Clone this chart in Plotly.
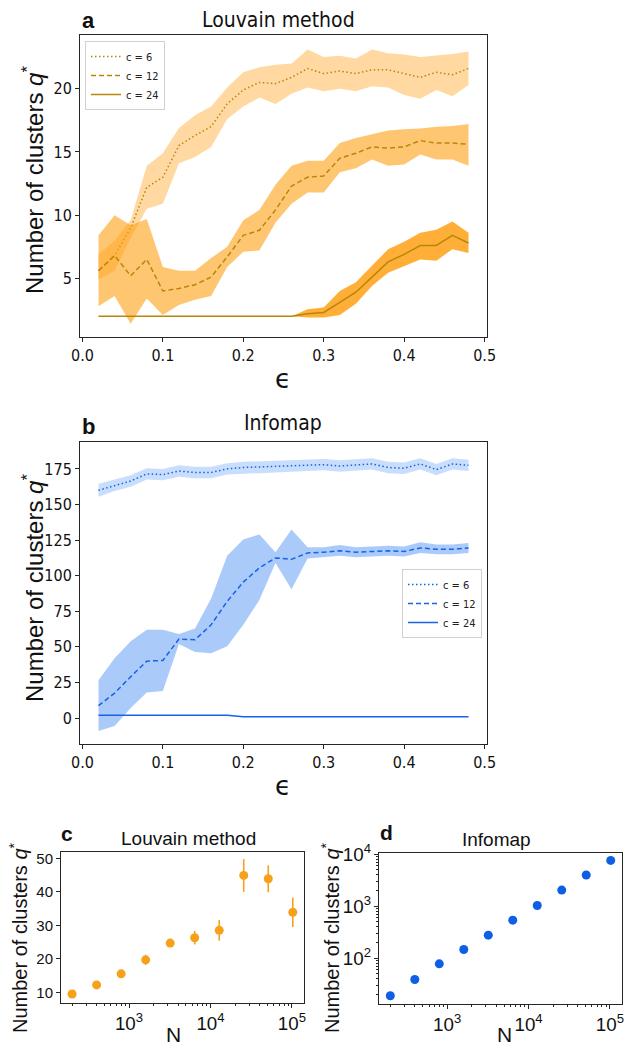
import plotly.graph_objects as go

W, H = 624, 1046

# ---------------- data ----------------
eps = [0.02, 0.04, 0.06, 0.08, 0.10, 0.12, 0.14, 0.16, 0.18, 0.20, 0.22, 0.24,
       0.26, 0.28, 0.30, 0.32, 0.34, 0.36, 0.38, 0.40, 0.42, 0.44, 0.46, 0.48]

# Panel a: Louvain method
lou_c6_mean = [5.6, 6.8, 9.0, 12.2, 13.0, 15.5, 16.3, 17.0, 18.8, 19.9, 20.5, 20.4,
               20.9, 21.6, 21.2, 21.4, 21.2, 21.5, 21.5, 21.2, 20.9, 21.3, 21.1, 21.6]
lou_c6_hi = [6.9, 8.0, 9.6, 13.9, 14.9, 16.9, 17.9, 18.6, 20.1, 21.3, 21.7, 21.9,
             22.0, 23.1, 22.5, 22.6, 22.4, 23.1, 22.8, 22.7, 22.5, 22.6, 22.75, 22.95]
lou_c6_lo = [4.9, 5.6, 8.2, 10.5, 10.9, 14.1, 14.6, 15.4, 17.6, 18.6, 19.3, 18.8,
             19.6, 20.1, 19.8, 20.0, 19.8, 20.2, 20.1, 19.5, 19.2, 19.9, 19.4, 20.3]

lou_c12_mean = [5.6, 6.8, 5.2, 6.5, 4.0, 4.2, 4.5, 5.1, 6.7, 8.4, 8.8, 10.4,
                12.3, 13.0, 13.1, 14.5, 14.9, 15.4, 15.3, 15.4, 15.9, 15.7, 15.7, 15.6]
lou_c12_hi = [8.4, 10.0, 9.2, 9.7, 5.9, 5.6, 5.6, 6.6, 7.5, 9.6, 10.4, 12.4,
              13.9, 14.3, 14.3, 15.7, 16.1, 16.4, 16.7, 16.8, 16.85, 17.0, 17.05, 17.2]
lou_c12_lo = [2.8, 3.6, 1.4, 3.4, 2.1, 2.9, 3.3, 3.6, 5.9, 7.1, 7.2, 9.4,
              10.9, 11.8, 11.8, 13.4, 13.7, 14.4, 13.9, 14.0, 14.8, 14.4, 14.4, 13.9]

lou_c24_mean = [2.0, 2.0, 2.0, 2.0, 2.0, 2.0, 2.0, 2.0, 2.0, 2.0, 2.0, 2.0,
                2.0, 2.2, 2.3, 3.1, 3.9, 5.1, 6.3, 6.9, 7.6, 7.6, 8.4, 7.8]
lou_c24_hi = [2.0, 2.0, 2.0, 2.0, 2.0, 2.0, 2.0, 2.0, 2.0, 2.0, 2.0, 2.0,
              2.0, 2.55, 2.7, 4.0, 4.7, 6.0, 7.3, 7.9, 8.6, 8.85, 9.5, 8.6]
lou_c24_lo = [2.0, 2.0, 2.0, 2.0, 2.0, 2.0, 2.0, 2.0, 2.0, 2.0, 2.0, 2.0,
              2.0, 1.9, 1.9, 2.1, 3.0, 4.4, 5.45, 5.95, 6.5, 6.4, 7.3, 7.0]

# Panel b: Infomap
inf_c6_mean = [160, 163.5, 166.5, 171.5, 171, 173.5, 172.5, 172.5, 175, 176, 176.5, 176.5,
               177, 177.5, 178, 177, 178, 178.5, 176, 175.5, 178.5, 174.5, 178.5, 177.5]
inf_c6_hi = [164.5, 167.5, 170.5, 175.5, 175, 177.5, 176.5, 176.5, 179, 180, 180.5, 180.5,
             181, 181.5, 182, 181, 182, 182.5, 180, 179.5, 182.5, 178.5, 182.5, 181.5]
inf_c6_lo = [155.5, 159.5, 162.5, 167.5, 167, 169.5, 168.5, 168.5, 171, 172, 172.5, 172.5,
             173, 173.5, 174, 173, 174, 174.5, 172, 171.5, 174.5, 170.5, 174.5, 173.5]

inf_c12_mean = [8.7, 17.5, 29, 40, 40.5, 55.5, 55, 65.5, 82, 95.5, 105.5, 112.5,
                111.5, 116, 116.5, 117.5, 116.5, 117, 117.5, 117, 119.5, 118.5, 118.5, 119.5]
inf_c12_hi = [26.5, 42, 54, 62, 62, 59, 63, 84, 114, 125.5, 129, 116.5,
              132.5, 120, 120, 121.5, 120, 120.5, 121, 120.5, 123.5, 122, 122, 123]
inf_c12_lo = [-9, -5.5, 7, 18, 19, 52, 46.5, 45.5, 50.5, 65.5, 83, 109,
              90.5, 112, 113, 114, 113, 113.5, 114, 113.5, 116, 115, 115, 116]

inf_c24_mean = [2, 2, 2, 2, 2, 2, 2, 2, 2, 1, 1, 1,
                1, 1, 1, 1, 1, 1, 1, 1, 1, 1, 1, 1]

# Panels c, d: scaling with N
N_vals = [200, 400, 800, 1600, 3200, 6400, 12800, 25600, 51200, 102400]
lou_q = [9.5, 12.2, 15.5, 19.7, 24.7, 26.3, 28.5, 44.9, 43.9, 33.9]
lou_q_err = [0.5, 0.6, 0.7, 1.5, 1.2, 2.0, 3.1, 4.9, 4.0, 4.4]
inf_q = [19, 39, 78, 147, 277, 538, 1030, 2030, 3950, 7550]

series_labels = ["c = 6", "c = 12", "c = 24"]
eps_ticks = [0.0, 0.1, 0.2, 0.3, 0.4, 0.5]

# ---------------- styling ----------------
LOU_LINE = "#B8860B"
LOU_BANDS = ["rgba(255,160,20,0.40)", "rgba(255,160,20,0.60)", "rgba(255,160,20,0.85)"]
INF_LINE = "#1862E6"
INF_BANDS = ["rgba(100,160,245,0.35)", "rgba(100,160,245,0.55)", "rgba(100,160,245,0.75)"]
DASHES = ["1.5px,2.5px", "5px,3px", "solid"]
ORANGE_MK = "#F7A01A"
BLUE_MK = "#0F5FE6"

NARROW = "Liberation Sans Narrow, DejaVu Sans Condensed, Arial Narrow, Liberation Sans, sans-serif"
SANS = "Liberation Sans, Arial, DejaVu Sans, sans-serif"
AXC = "#262626"


def xd(px0, px1):
    return [px0 / W, px1 / W]


def yd(top, bottom):
    return [1 - bottom / H, 1 - top / H]


fig = go.Figure()


def band(x, lo, hi, color, xa, ya):
    fig.add_trace(go.Scatter(
        x=list(x) + list(x)[::-1], y=list(hi) + list(lo)[::-1],
        fill="toself", fillcolor=color, line=dict(width=0),
        mode="lines", hoverinfo="skip", showlegend=False, xaxis=xa, yaxis=ya))


# Panel a
lou_sets = [(lou_c6_mean, lou_c6_lo, lou_c6_hi),
            (lou_c12_mean, lou_c12_lo, lou_c12_hi),
            (lou_c24_mean, lou_c24_lo, lou_c24_hi)]
for i, (m, lo, hi) in enumerate(lou_sets):
    band(eps, lo, hi, LOU_BANDS[i], "x", "y")
    fig.add_trace(go.Scatter(x=eps, y=m, mode="lines", name=series_labels[i],
                             line=dict(color=LOU_LINE, width=1.5, dash=DASHES[i]),
                             xaxis="x", yaxis="y", legend="legend"))

# Panel b
inf_sets = [(inf_c6_mean, inf_c6_lo, inf_c6_hi),
            (inf_c12_mean, inf_c12_lo, inf_c12_hi),
            (inf_c24_mean, inf_c24_mean, inf_c24_mean)]
for i, (m, lo, hi) in enumerate(inf_sets):
    band(eps, lo, hi, INF_BANDS[i], "x2", "y2")
    fig.add_trace(go.Scatter(x=eps, y=m, mode="lines", name=series_labels[i],
                             line=dict(color=INF_LINE, width=1.5, dash=DASHES[i]),
                             xaxis="x2", yaxis="y2", legend="legend2"))

# Panel c
fig.add_trace(go.Scatter(x=N_vals, y=lou_q, mode="markers",
                         marker=dict(color=ORANGE_MK, size=9),
                         error_y=dict(type="data", array=lou_q_err, color=ORANGE_MK,
                                      thickness=1.6, width=0),
                         showlegend=False, xaxis="x3", yaxis="y3"))
# Panel d
fig.add_trace(go.Scatter(x=N_vals, y=inf_q, mode="markers",
                         marker=dict(color=BLUE_MK, size=9),
                         showlegend=False, xaxis="x4", yaxis="y4"))

common = dict(showline=True, mirror=True, linecolor=AXC, linewidth=1,
              ticks="outside", ticklen=4, tickcolor=AXC, showgrid=False,
              zeroline=False, automargin=False)
tick_ab = dict(family=NARROW, size=16, color="#111")
tick_cd = dict(family=SANS, size=15, color="#111")

fig.update_layout(
    width=W, height=H, margin=dict(l=0, r=0, t=0, b=0),
    paper_bgcolor="white", plot_bgcolor="white",
    xaxis=dict(domain=xd(80, 487), anchor="y", range=[-0.003, 0.503],
               tickvals=eps_ticks, tickformat=".1f", tickfont=tick_ab, **common),
    yaxis=dict(domain=yd(35, 337), anchor="x", range=[0.36, 24.25],
               tickvals=[5, 10, 15, 20], tickfont=tick_ab, **common),
    xaxis2=dict(domain=xd(80, 487), anchor="y2", range=[-0.003, 0.503],
                tickvals=eps_ticks, tickformat=".1f", tickfont=tick_ab, **common),
    yaxis2=dict(domain=yd(442, 744), anchor="x2", range=[-18.2, 193.9],
                tickvals=[0, 25, 50, 75, 100, 125, 150, 175], tickfont=tick_ab, **common),
    xaxis3=dict(domain=xd(61, 304), anchor="y3", type="log", range=[2.165, 5.148],
                dtick=1, exponentformat="power", tickfont=tick_cd,
                minor=dict(ticks="outside", ticklen=2, tickcolor=AXC, dtick="D1"), **common),
    yaxis3=dict(domain=yd(852, 1003), anchor="x3", range=[6.8, 51.9],
                tickvals=[10, 20, 30, 40, 50], tickfont=tick_cd, **common),
    xaxis4=dict(domain=xd(379, 622), anchor="y4", type="log", range=[2.162, 5.149],
                dtick=1, exponentformat="power", tickfont=tick_cd,
                minor=dict(ticks="outside", ticklen=2, tickcolor=AXC, dtick="D1"), **common),
    yaxis4=dict(domain=yd(853, 1004), anchor="x4", type="log", range=[1.121, 4.02],
                dtick=1, exponentformat="power", tickfont=tick_cd,
                minor=dict(ticks="outside", ticklen=2, tickcolor=AXC, dtick="D1"), **common),
    legend=dict(x=85 / W, y=1 - 41 / H, xanchor="left", yanchor="top",
                bgcolor="rgba(255,255,255,0.85)", bordercolor="#d0d0d0", borderwidth=1,
                font=dict(family="DejaVu Sans Condensed, DejaVu Sans", size=11, color="#222"),
                itemwidth=30, tracegroupgap=0),
    legend2=dict(x=482 / W, y=1 - 569 / H, xanchor="right", yanchor="top",
                 bgcolor="rgba(255,255,255,0.85)", bordercolor="#d0d0d0", borderwidth=1,
                 font=dict(family="DejaVu Sans Condensed, DejaVu Sans", size=11, color="#222"),
                 itemwidth=30, tracegroupgap=0),
)


def ann(text, xpx, ypx, size, family=SANS, angle=0):
    fig.add_annotation(text=text, x=xpx / W, y=1 - ypx / H, xref="paper", yref="paper",
                       xanchor="center", yanchor="middle", showarrow=False,
                       textangle=angle, font=dict(family=family, size=size, color="#111"))


YT = "Number of clusters <i>q</i><sup>*</sup>"
# panel a
ann("<b>a</b>", 88, 20, 22)
ann("Louvain method", 278, 20, 21, NARROW)
ann("ϵ", 283, 379, 26, "DejaVu Sans")
ann(YT, 33, 180, 24, SANS, -90)
# panel b
ann("<b>b</b>", 88, 427, 22)
ann("Infomap", 283, 423, 21, NARROW)
ann("ϵ", 283, 786, 26, "DejaVu Sans")
ann(YT, 33, 588, 24, SANS, -90)
# panel c
ann("<b>c</b>", 67, 833, 21)
ann("Louvain method", 188, 838, 19)
ann("N", 173, 1034, 21)
ann(YT, 18, 938, 20, SANS, -90)
# panel d
ann("<b>d</b>", 386, 832, 21)
ann("Infomap", 497, 839, 19)
ann("N", 504, 1034, 21)
ann(YT, 330, 938, 20, SANS, -90)

fig.write_html(
    "out.html",
    config={"displayModeBar": False},
    post_script="document.body.style.margin='0';document.body.style.overflow='hidden';",
)
